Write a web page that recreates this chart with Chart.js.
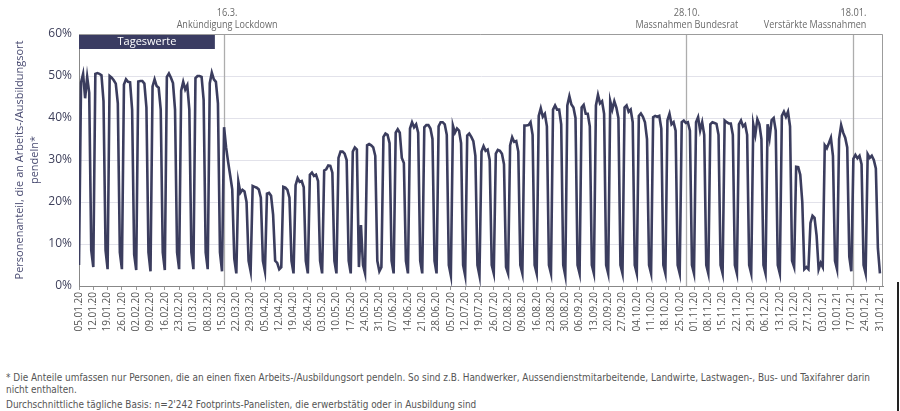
<!DOCTYPE html>
<html>
<head>
<meta charset="utf-8">
<script src="https://cdn.jsdelivr.net/npm/chart.js@4.4.1/dist/chart.umd.min.js"></script>
<style>
  body { margin: 0; background: #fff; }
  #wrap { position: relative; width: 900px; height: 411px; overflow: hidden; }
  #chart { position: absolute; left: 0; top: 0; }
  .fn { position: absolute; left: 6px; font-family: 'Liberation Sans Narrow', 'DejaVu Sans Condensed', sans-serif;
        font-size: 10.5px; color: #555; white-space: nowrap; transform-origin: 0 50%; }
  #edge { position: absolute; left: 897px; top: 282px; width: 2px; height: 129px; background: #222; }
</style>
</head>
<body>
<div id="wrap">
  <canvas id="chart" width="900" height="350"></canvas>
  <div class="fn" style="top:371px" data-w="864">* Die Anteile umfassen nur Personen, die an einen fixen Arbeits-/Ausbildungsort pendeln. So sind z.B. Handwerker, Aussendienstmitarbeitende, Landwirte, Lastwagen-, Bus- und Taxifahrer darin</div>
  <div class="fn" style="top:383px">nicht enthalten.</div>
  <div class="fn" style="top:398px">Durchschnittliche tägliche Basis: n=2'242 Footprints-Panelisten, die erwerbstätig oder in Ausbildung sind</div>
  <div id="edge"></div>
</div>
<script>
// Wochenbeschriftung (jeweils Sonntag)
const tickLabels = ['05.01.20','12.01.20','19.01.20','26.01.20','02.02.20','09.02.20','16.02.20','23.02.20',
  '01.03.20','08.03.20','15.03.20','22.03.20','29.03.20','05.04.20','12.04.20','19.04.20','26.04.20',
  '03.05.20','10.05.20','17.05.20','24.05.20','31.05.20','07.06.20','14.06.20','21.06.20','28.06.20',
  '05.07.20','12.07.20','19.07.20','26.07.20','02.08.20','09.08.20','16.08.20','23.08.20','30.08.20',
  '06.09.20','13.09.20','20.09.20','27.09.20','04.10.20','11.10.20','18.10.20','25.10.20','01.11.20',
  '08.11.20','15.11.20','22.11.20','29.11.20','06.12.20','13.12.20','20.12.20','27.12.20','03.01.21',
  '10.01.21','17.01.21','24.01.21','31.01.21'];

// Tageswerte in %, eine Zeile pro Woche: So, Mo, Di, Mi, Do, Fr, Sa
const anteil = [
  5, 48.5, 50.5, 44.7, 49.8, 46, 8.5,
  4.5, 50.5, 50.7, 50.5, 50.2, 44, 8.5,
  4, 50, 49.6, 49, 48.2, 43.5, 8,
  4, 48, 49.2, 48.6, 48.5, 42, 7.5,
  3.8, 48.7, 48.8, 48.8, 48.2, 42.5, 8,
  3.5, 47.5, 49.2, 47.6, 47.2, 42, 8,
  3.8, 49.8, 50.6, 49.6, 48.3, 42, 8,
  4, 46.5, 48.6, 46.8, 47.8, 42, 8,
  4, 49.5, 50, 50, 49.8, 44.3, 8,
  4, 48.3, 50.8, 49.2, 48.6, 43.5, 8,
  3.5, 37.8, 33, 29.5, 26.3, 23, 6.5,
  3, 24.8, 22.2, 22.9, 22.5, 20, 6,
  3.5, 23.8, 23.6, 23.4, 23, 21, 6,
  3.5, 22, 22.2, 21.5, 17, 6, 5.5,
  4, 4.5, 23.6, 23.4, 22.9, 21, 6,
  3, 24, 25.7, 24.8, 25, 23.5, 6,
  3, 26.5, 27, 26.2, 26.5, 25, 6,
  3, 27.5, 27.8, 28.7, 28.6, 27, 6,
  3, 30.5, 32, 32, 31.5, 30, 6,
  3, 32, 33, 32.5, 4.5, 14.5, 5,
  3, 33.5, 33.8, 33.5, 33, 31, 6,
  3.5, 4.5, 35.5, 36.3, 36, 34, 6,
  3, 36.5, 37.3, 36.5, 30.5, 29.3, 6,
  3, 37.5, 39, 37.8, 38.5, 36.5, 6,
  3, 37.8, 38.3, 38.3, 37.5, 35, 6,
  3, 38, 39, 39, 38.5, 36, 5,
  2.5, 38.2, 36.5, 37.5, 37, 34, 5,
  2.5, 35.8, 36.3, 35.5, 34.5, 31, 5,
  2.5, 32, 33.3, 32.2, 32.5, 30, 5,
  3, 31.5, 32.4, 32.2, 31.5, 29, 4.5,
  3, 33.5, 35.4, 34.3, 34.5, 32, 5,
  3, 38.2, 38.2, 38.3, 39, 36, 5,
  3, 40.5, 42.3, 40.3, 41, 38, 5,
  3, 42, 43, 42, 42, 38.5, 5,
  2.5, 43, 45.2, 43.2, 42.5, 40, 5,
  3, 42.5, 43.1, 41, 41, 38, 5,
  3, 43, 45.5, 43.5, 44, 41, 5,
  3, 44, 42, 44, 42.5, 40, 5,
  3, 42.5, 43, 41.5, 42, 39, 5,
  3, 40.5, 41.1, 40.3, 39, 35, 5,
  3, 40.2, 40.5, 40.3, 40.5, 37.5, 5,
  3, 39.5, 41, 38.5, 39, 37, 5,
  3, 39, 39.4, 38.8, 39, 37, 5,
  3, 39, 40.2, 37, 39, 36, 5,
  3, 38.5, 39, 38.8, 38.6, 36, 5,
  3, 39.4, 39, 38.7, 38.7, 36, 5,
  3, 38.5, 39.4, 38, 38.5, 36, 5,
  3, 38.5, 36, 39.7, 38.5, 35, 5,
  3, 38.5, 35.3, 39.5, 40, 37, 5,
  3, 40.5, 41.5, 40.3, 41.5, 38, 6,
  4.5, 28.4, 28.3, 26.5, 20, 4, 4.5,
  4, 15, 16.7, 16.2, 12, 4, 5.5,
  4.5, 33.5, 32.8, 34, 35.3, 31, 6,
  4, 35, 38.3, 36.5, 35.3, 33, 7,
  3.5, 30.3, 31.2, 30.4, 31, 29, 5,
  3, 31.4, 30.5, 31, 30, 28, 9,
  3
];

// Ereignisse: Tagesindex ab 05.01.20
const ereignisse = [
  { tag: 71, datum: '16.3.', text: 'Ankündigung Lockdown', align: 'center', dx: 3 },
  { tag: 297, datum: '28.10.', text: 'Massnahmen Bundesrat', align: 'center', dx: 1 },
  { tag: 379, datum: '18.01.', text: 'Verstärkte Massnahmen', align: 'right', dx: 13 }
];

const navy = '#3b3d5e';

const deko = {
  id: 'deko',
  beforeDatasetsDraw(chart) {
    const { ctx, chartArea: a, scales: { x } } = chart;
    ctx.save();
    ctx.strokeStyle = '#adadad';
    ctx.lineWidth = 1.3;
    ereignisse.forEach(e => {
      const px = Math.round(x.getPixelForValue(e.tag)) + 0.5;
      ctx.beginPath(); ctx.moveTo(px, a.top); ctx.lineTo(px, a.bottom); ctx.stroke();
    });
    ctx.restore();
  },
  afterDatasetsDraw(chart) {
    const { ctx, chartArea: a, scales: { x } } = chart;
    ctx.save();
    // Rahmen oben/rechts
    ctx.strokeStyle = '#9c9c9c';
    ctx.lineWidth = 1;
    ctx.beginPath();
    ctx.moveTo(a.left, a.top + 0.5); ctx.lineTo(a.right - 0.5, a.top + 0.5); ctx.lineTo(a.right - 0.5, a.bottom);
    ctx.stroke();
    // Tageswerte-Box
    const bx2 = x.getPixelForValue(66.5);
    ctx.fillStyle = '#3a3c62';
    ctx.fillRect(a.left, a.top + 1, bx2 - a.left, 14);
    ctx.fillStyle = '#fff';
    ctx.font = '11px "Open Sans", sans-serif';
    ctx.textAlign = 'center';
    ctx.textBaseline = 'middle';
    ctx.fillText('Tageswerte', (a.left + bx2) / 2, a.top + 8);
    // Ereignis-Texte (etwas schmaler laufend wie in der Vorlage)
    ctx.fillStyle = '#6a6a6a';
    ctx.font = '10.5px "Open Sans", sans-serif';
    ereignisse.forEach(e => {
      const px = x.getPixelForValue(e.tag) + e.dx;
      ctx.textAlign = e.align;
      ctx.fillText(e.datum, px, 13, ctx.measureText(e.datum).width * 0.88);
      ctx.fillText(e.text, px, 25, ctx.measureText(e.text).width * 0.86);
    });
    ctx.restore();
  }
};

new Chart(document.getElementById('chart'), {
  type: 'line',
  data: {
    datasets: [{
      data: anteil.map((v, i) => ({ x: i, y: v })),
      borderColor: navy,
      borderWidth: 2.6,
      pointRadius: 0,
      tension: 0,
      fill: false
    }]
  },
  options: {
    responsive: false,
    animation: false,
    layout: { padding: { left: 0, top: 34, right: 17, bottom: 0 } },
    plugins: { legend: { display: false }, tooltip: { enabled: false } },
    scales: {
      x: {
        type: 'linear',
        min: 0,
        max: 393.5,
        afterBuildTicks: axis => { axis.ticks = tickLabels.map((_, i) => ({ value: i * 7 })); },
        afterFit: scale => { scale.height = 64; },
        ticks: {
          autoSkip: false,
          minRotation: 90,
          maxRotation: 90,
          padding: 2,
          color: '#555',
          font: { size: 10, family: '"Open Sans", sans-serif' },
          callback: v => tickLabels[v / 7]
        },
        grid: { drawOnChartArea: false, drawTicks: true, tickLength: 4, color: '#999' },
        border: { color: '#888' }
      },
      y: {
        min: 0,
        max: 60,
        afterFit: scale => { scale.width = 79; },
        ticks: {
          stepSize: 10,
          padding: 7,
          color: '#3d3f5a',
          font: { size: 12, family: '"Open Sans", sans-serif' },
          callback: v => v + '%'
        },
        grid: { color: '#e2e2ea', drawTicks: false },
        border: { color: '#888' },
        title: {
          display: true,
          text: ['Personenanteil, die an Arbeits-/Ausbildungsort', 'pendeln*'],
          color: '#4a4c72',
          font: { size: 11, family: '"Open Sans", sans-serif', lineHeight: 1.35 },
          padding: { top: 12.5, bottom: 0 }
        }
      }
    }
  },
  plugins: [deko]
});

// Fussnotenbreite an Vorlage anpassen
const fn = document.querySelectorAll('.fn');
const first = fn[0];
const s = first.dataset.w / first.getBoundingClientRect().width;
fn.forEach(el => { el.style.transform = 'scaleX(' + s + ')'; });
</script>
</body>
</html>
